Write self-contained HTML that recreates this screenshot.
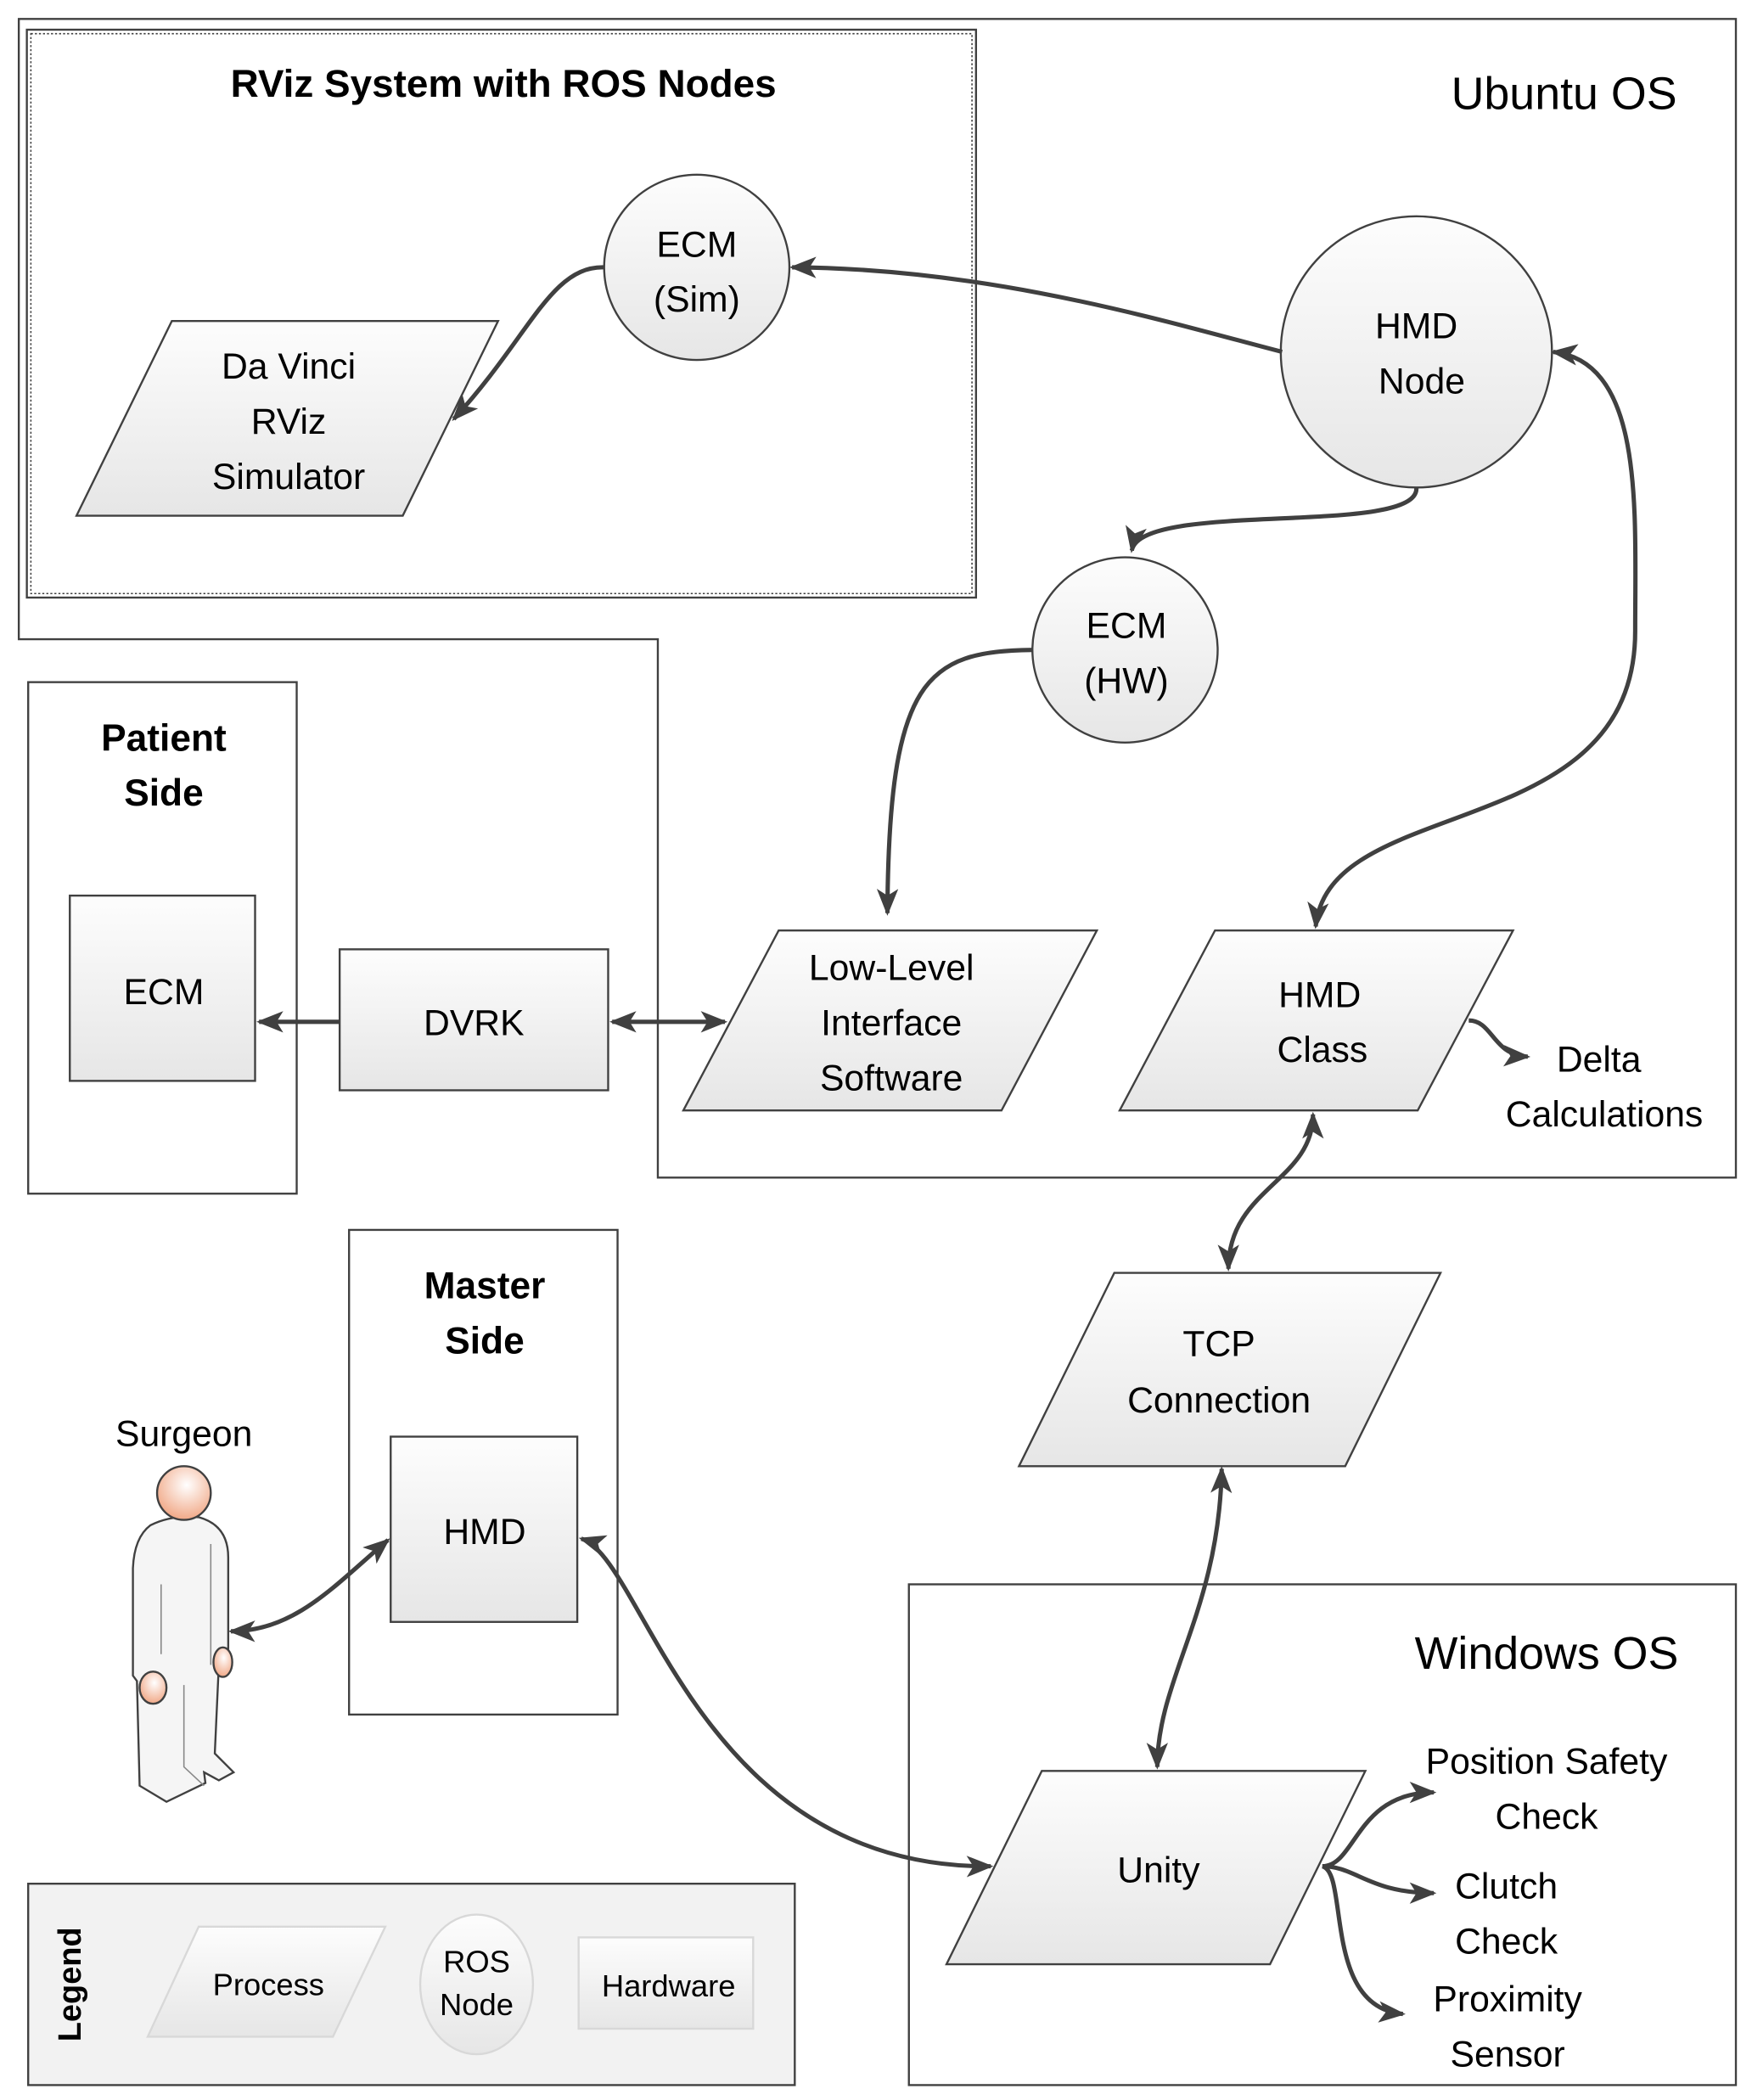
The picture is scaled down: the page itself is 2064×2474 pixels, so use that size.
<!DOCTYPE html>
<html><head><meta charset="utf-8"><style>
html,body{margin:0;padding:0;background:#fff}
svg{display:block}
text{font-family:"Liberation Sans",sans-serif;fill:#000}
</style></head><body>
<svg width="2064" height="2474" viewBox="0 0 1305 1564" xmlns="http://www.w3.org/2000/svg">
<defs>
<linearGradient id="g" x1="0" y1="0" x2="0" y2="1"><stop offset="0" stop-color="#fdfdfd"/><stop offset="1" stop-color="#e6e6e6"/></linearGradient>
<radialGradient id="skin" cx="0.55" cy="0.35" r="0.7"><stop offset="0" stop-color="#fff"/><stop offset="1" stop-color="#f0a27e"/></radialGradient>
<marker id="a" viewBox="0 0 20 16" refX="18" refY="8" markerWidth="20" markerHeight="16" markerUnits="userSpaceOnUse" orient="auto-start-reverse"><path d="M0,0 L20,8 L0,16 L5,8 Z" fill="#404040"/></marker>
</defs>
<g fill="none" stroke="#404040" stroke-width="1.5">
<path d="M14,14 H1293 V877 H490 V476 H14 Z"/>
<rect x="20" y="22" width="707" height="423"/>
<rect x="23" y="25" width="701" height="417" stroke-dasharray="1.5,1.5" stroke-width="1"/>
<rect x="21" y="508" width="200" height="381"/>
<rect x="260" y="916" width="200" height="361"/>
<rect x="677" y="1180" width="616" height="373"/>
<rect x="21" y="1403" width="571" height="150" fill="#f2f2f2"/>
</g>
<g fill="url(#g)" stroke="#404040" stroke-width="1.5">
<circle cx="519" cy="199" r="69"/>
<path d="M57,384 L128,239 L371,239 L300,384 Z"/>
<circle cx="1055" cy="262" r="101"/>
<circle cx="838" cy="484" r="69"/>
<rect x="52" y="667" width="138" height="138"/>
<rect x="253" y="707" width="200" height="105"/>
<path d="M509,827 L580,693 L817,693 L746,827 Z"/>
<path d="M834,827 L905,693 L1127,693 L1056,827 Z"/>
<path d="M759,1092 L830,948 L1073,948 L1002,1092 Z"/>
<rect x="291" y="1070" width="139" height="138"/>
<path d="M705,1463 L776,1319 L1017,1319 L946,1463 Z"/>
</g>
<g fill="url(#g)" stroke="#d8d8d8" stroke-width="1.5">
<path d="M110,1517 L148,1435 L287,1435 L248,1517 Z"/>
<ellipse cx="355" cy="1478" rx="42" ry="52"/>
<rect x="431" y="1443" width="130" height="68"/>
</g>
<!-- surgeon -->
<g stroke="#404040" stroke-width="1.5">
<path d="M112,1136 Q128,1128 148,1130 Q170,1136 170,1160 V1236 L163,1240 L160,1306 L174,1320 L163,1326 L152,1320 L153,1328 L124,1342 L104,1330 L102,1252 L99,1248 V1168 Q100,1145 112,1136 Z" fill="#f5f5f5"/>
<circle cx="137" cy="1112" r="20" fill="url(#skin)"/>
<ellipse cx="114" cy="1257" rx="10" ry="12" fill="url(#skin)"/>
<ellipse cx="166" cy="1238" rx="7" ry="11" fill="url(#skin)"/>
<path d="M120,1180 V1232 M157,1150 V1240 M137,1255 V1316 L152,1330" fill="none" stroke="#888" stroke-width="1"/>
</g>
<!-- connectors -->
<g fill="none" stroke="#404040" stroke-width="3.2" marker-end="url(#a)">
<path d="M955,262 C870,240 740,200 590,199"/>
<path d="M450,199 C410,198 395,250 338,312"/>
<path d="M1055,363 C1058,400 850,372 843,410"/>
<path d="M769,484 C690,485 662,505 661,680"/>
<path d="M1157,262 C1225,270 1218,380 1218,470 C1218,630 990,590 980,690" marker-start="url(#a)"/>
<path d="M253,761 H193"/>
<path d="M456,761 H540" marker-start="url(#a)"/>
<path d="M1094,760 C1112,760 1112,786 1138,787"/>
<path d="M978,830 C978,880 915,885 915,945" marker-start="url(#a)"/>
<path d="M910,1094 C908,1200 862,1250 862,1316" marker-start="url(#a)"/>
<path d="M172,1215 C220,1215 250,1180 289,1147" marker-start="url(#a)"/>
<path d="M433,1146 C480,1160 520,1392 738,1390" marker-start="url(#a)"/>
<path d="M985,1390 C1010,1390 1010,1335 1068,1335"/>
<path d="M985,1390 C1010,1390 1020,1410 1068,1410"/>
<path d="M985,1390 C1005,1395 985,1495 1045,1500"/>
</g>
<!-- text -->
<g font-size="27" text-anchor="middle">
<text x="375" y="72" font-weight="bold" font-size="29">RViz System with ROS Nodes</text>
<text x="1165" y="81" font-size="34">Ubuntu OS</text>
<text x="519" y="191">ECM</text><text x="519" y="232">(Sim)</text>
<text x="215" y="282">Da Vinci</text><text x="215" y="323">RViz</text><text x="215" y="364">Simulator</text>
<text x="1055" y="252">HMD</text><text x="1059" y="293">Node</text>
<text x="839" y="475">ECM</text><text x="839" y="516">(HW)</text>
<text x="122" y="559" font-weight="bold" font-size="28">Patient</text><text x="122" y="600" font-weight="bold" font-size="28">Side</text>
<text x="122" y="748">ECM</text>
<text x="353" y="771">DVRK</text>
<text x="664" y="730">Low-Level</text><text x="664" y="771">Interface</text><text x="664" y="812">Software</text>
<text x="983" y="750">HMD</text><text x="985" y="791">Class</text>
<text x="1191" y="798">Delta</text><text x="1195" y="839">Calculations</text>
<text x="908" y="1010">TCP</text><text x="908" y="1052">Connection</text>
<text x="361" y="967" font-weight="bold" font-size="28">Master</text><text x="361" y="1008" font-weight="bold" font-size="28">Side</text>
<text x="137" y="1077">Surgeon</text>
<text x="361" y="1150">HMD</text>
<text x="1152" y="1243" font-size="34">Windows OS</text>
<text x="863" y="1402">Unity</text>
<text x="1152" y="1321">Position Safety</text><text x="1152" y="1362">Check</text>
<text x="1122" y="1414">Clutch</text><text x="1122" y="1455">Check</text>
<text x="1123" y="1498">Proximity</text><text x="1123" y="1539">Sensor</text>
<text x="200" y="1486" font-size="23">Process</text>
<text x="355" y="1469" font-size="23">ROS</text><text x="355" y="1501" font-size="23">Node</text>
<text x="498" y="1487" font-size="23">Hardware</text>
<text x="0" y="0" font-size="24" font-weight="bold" transform="translate(60,1478) rotate(-90)">Legend</text>
</g>
</svg>
</body></html>
